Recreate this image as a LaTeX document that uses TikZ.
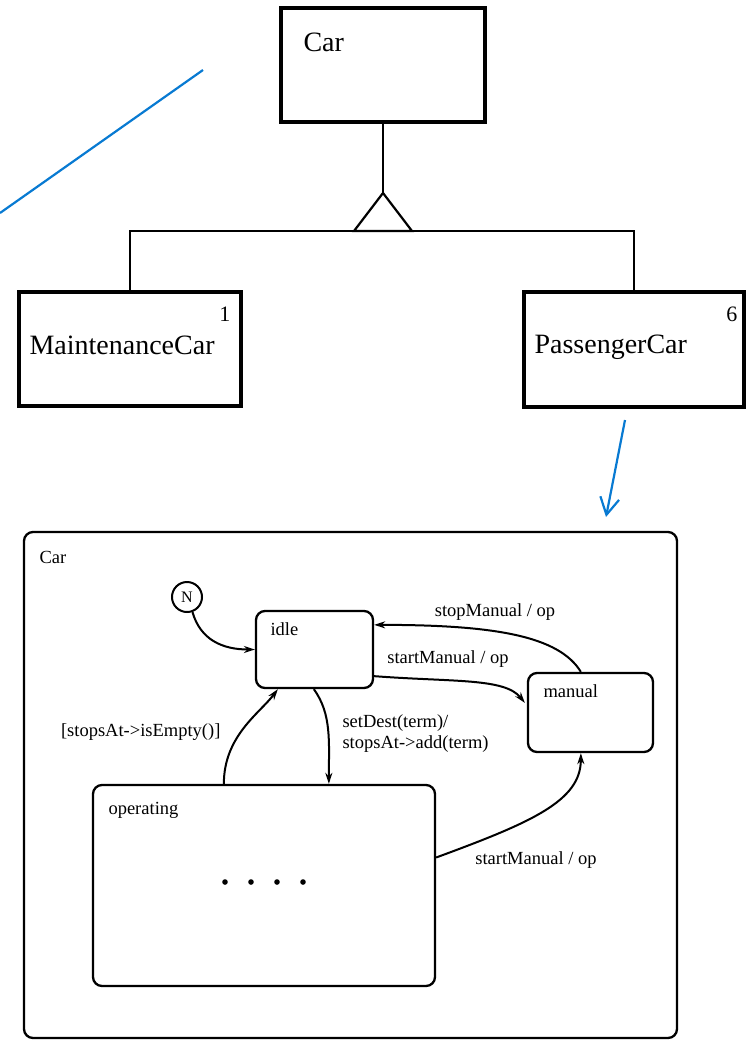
\documentclass[tikz,border=0pt]{standalone}
\usepackage{fontspec}
\setmainfont{Liberation Serif}
\usetikzlibrary{arrows.meta,calc}
\definecolor{noteblue}{RGB}{8,122,210}
\tikzset{
  classbox/.style={draw,line width=3.2pt,inner sep=0pt},
  statebox/.style={draw,line width=2.3pt,rounded corners=9pt,inner sep=0pt},
  bigfont/.style={font=\fontsize{28}{30}\selectfont},
  multfont/.style={font=\fontsize{22}{24}\selectfont},
  smfont/.style={font=\fontsize{18.5}{21}\selectfont},
  link/.style={line width=2.2pt},
  trans/.style={line width=2pt,-{Stealth[length=11pt,width=7pt]}},
  note/.style={noteblue,line width=2.2pt},
}
\begin{document}
\begin{tikzpicture}[x=1pt,y=-1pt]
\useasboundingbox (0,0) rectangle (746,1042);

% class hierarchy
\node[classbox,minimum width=204pt,minimum height=114pt] (car) at (383,65) {};
\node[bigfont,anchor=west] (carlbl) at (300,42) {Car};
\node[classbox,minimum width=222pt,minimum height=114pt] (maint) at (130,349) {};
\node[bigfont,anchor=west] (maintlbl) at (26,345) {MaintenanceCar};
\node[multfont,anchor=east] (maintmul) at (234,314) {1};
\node[classbox,minimum width=220pt,minimum height=115pt] (pass) at (634,349.5) {};
\node[bigfont,anchor=west] (passlbl) at (531,347) {PassengerCar};
\node[multfont,anchor=east] (passmul) at (741,314) {6};

% generalization
\coordinate (apex) at (383,193);
\coordinate (gen) at (383,231);
\draw[link] (car.south) -- (apex);
\draw[link] (maint.north) |- (gen) -| (pass.north);
\draw[link,fill=white,line join=miter] (apex) -- ($(gen)+(-29,0)$) -- ($(gen)+(29,0)$) -- cycle;

% annotation strokes
\coordinate (bl1) at (0,213);
\coordinate (bl2) at (203,70);
\draw[note] (bl1) -- (bl2);
\coordinate (ba1) at (625,420);
\coordinate (ba2) at (606,517);
\draw[note,-{Straight Barb[length=17pt,width=19pt,line width=2.2pt]}] (ba1) -- (ba2);

% state machine
\node[statebox,minimum width=653pt,minimum height=506pt] (sm) at (350.5,785) {};
\node[smfont,anchor=west] (smlbl) at (36,557) {Car};
\node[draw,circle,line width=2pt,minimum size=30pt,inner sep=0pt,font=\fontsize{16}{18}\selectfont] (init) at (187,597) {N};
\node[statebox,minimum width=117pt,minimum height=77pt] (idle) at (314.5,649.5) {};
\node[smfont,anchor=west] (idlelbl) at (267,629) {idle};
\node[statebox,minimum width=125pt,minimum height=79pt] (manual) at (590.5,712.5) {};
\node[smfont,anchor=west] (manuallbl) at (540,691) {manual};
\node[statebox,minimum width=342pt,minimum height=201pt] (operating) at (264,885.5) {};
\node[smfont,anchor=west] (operatinglbl) at (105,810) {operating};
\foreach \i/\x in {1/225,2/251,3/277,4/303}
  \fill (\x,882) circle (2.8pt);

% transitions
\draw[trans] (init.-70) .. controls +(8,28) and +(-32,0) .. (idle.west);
\draw[trans] ($(manual.north west)+(54,0)$) .. controls +(-22,-36) and +(120,0) .. ($(idle.north east)+(0,15)$);
\node[smfont] (l1) at (495,612) {stopManual / op};
\draw[trans] ($(idle.south east)+(0,-13)$) .. controls +(80,6) and +(-20,-25) .. ($(manual.north west)+(-2,31)$);
\node[smfont] (l2) at (448,659) {startManual / op};
\draw[trans] ($(operating.north west)+(132,0)$) .. controls +(0,-48) and +(-18,24) .. ($(idle.south west)+(23,0)$);
\node[smfont,anchor=east] (l3) at (224,732) {[stopsAt->isEmpty()]};
\draw[trans] ($(idle.south west)+(59,0)$) .. controls +(18,25) and +(0,-42) .. ($(operating.north west)+(237,0)$);
\node[smfont,anchor=west,align=left] (l4) at (339,734) {setDest(term)/\\stopsAt->add(term)};
\draw[trans] ($(operating.east)+(0,-28)$) .. controls +(95,-35) and +(0,48) .. ($(manual.south west)+(54,0)$);
\node[smfont] (l5) at (536,860) {startManual / op};
\end{tikzpicture}
\end{document}
